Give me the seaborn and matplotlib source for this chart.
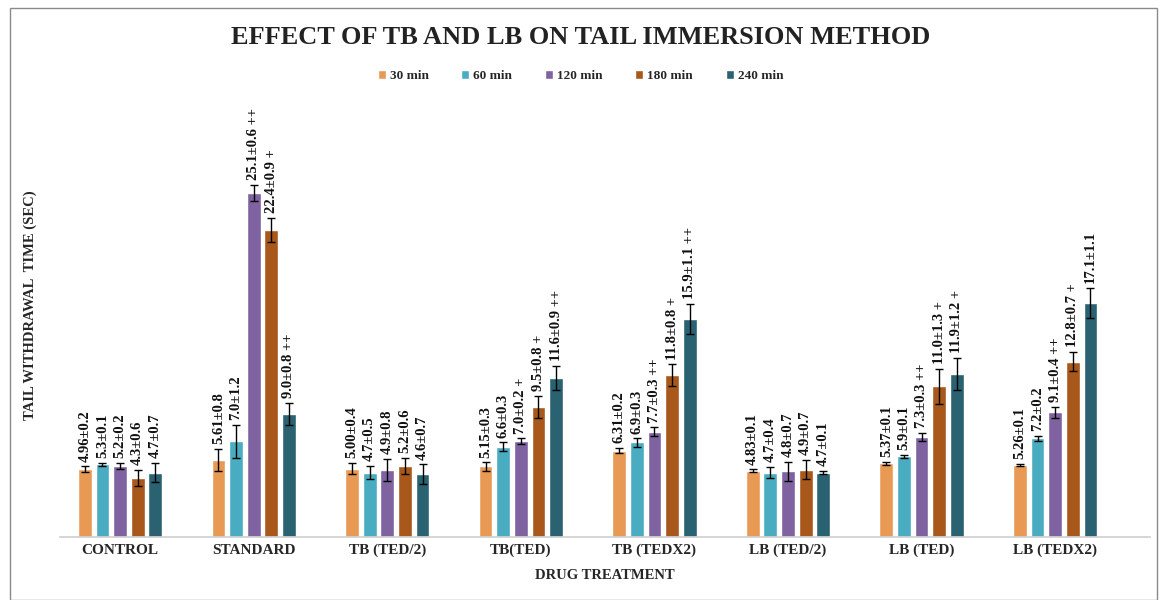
import matplotlib
matplotlib.use("Agg")
import matplotlib.pyplot as plt
import seaborn as sns
import pandas as pd
from matplotlib.patches import Rectangle

groups = ["CONTROL", "STANDARD", "TB (TED/2)", "TB(TED)", "TB (TEDX2)",
          "LB (TED/2)", "LB (TED)", "LB (TEDX2)"]
times = ["30 min", "60 min", "120 min", "180 min", "240 min"]

m30 = [4.96, 5.61, 5.00, 5.15, 6.31, 4.83, 5.37, 5.26]
m60 = [5.3, 7.0, 4.7, 6.6, 6.9, 4.7, 5.9, 7.2]
m120 = [5.2, 25.1, 4.9, 7.0, 7.7, 4.8, 7.3, 9.1]
m180 = [4.3, 22.4, 5.2, 9.5, 11.8, 4.9, 11.0, 12.8]
m240 = [4.7, 9.0, 4.6, 11.6, 15.9, 4.7, 11.9, 17.1]

e30 = [0.2, 0.8, 0.4, 0.3, 0.2, 0.1, 0.1, 0.1]
e60 = [0.1, 1.2, 0.5, 0.3, 0.3, 0.4, 0.1, 0.2]
e120 = [0.2, 0.6, 0.8, 0.2, 0.3, 0.7, 0.3, 0.4]
e180 = [0.6, 0.9, 0.6, 0.8, 0.8, 0.7, 1.3, 0.7]
e240 = [0.7, 0.8, 0.7, 0.9, 1.1, 0.1, 1.2, 1.1]

s30 = ["", "", "", "", "", "", "", ""]
s60 = ["", "", "", "", "", "", "", ""]
s120 = ["", "++", "", "+", "++", "", "++", "++"]
s180 = ["", "+", "", "+", "+", "", "+", "+"]
s240 = ["", "++", "", "++", "++", "", "+", ""]

means = [m30, m60, m120, m180, m240]
errs = [e30, e60, e120, e180, e240]
sigs = [s30, s60, s120, s180, s240]
decimals = [2, 1, 1, 1, 1]
colors = ["#E89A55", "#4AACC0", "#7E63A0", "#A9581C", "#2A6272"]

rows = []
for t, ms in zip(times, means):
    for g, v in zip(groups, ms):
        rows.append({"group": g, "time": t, "value": v})
df = pd.DataFrame(rows)

sns.set_theme(style="white")
plt.rcParams['font.family'] = ['Liberation Serif', 'DejaVu Serif']

W, H = 1161, 600
fig = plt.figure(figsize=(W / 100, H / 100), dpi=100)
ax = fig.add_axes([60 / W, 63 / H, 1090 / W, 437 / H])

sns.barplot(data=df, x="group", y="value", hue="time", order=groups,
            hue_order=times, palette=colors, saturation=1, width=0.66,
            gap=0.22, errorbar=None, ax=ax)

bar_containers = list(ax.containers)
for ci, cont in enumerate(bar_containers):
    for bar, m, e, s in zip(cont, means[ci], errs[ci], sigs[ci]):
        x = bar.get_x() + bar.get_width() / 2
        ax.errorbar(x, m, yerr=e, fmt='none', ecolor='black', elinewidth=1,
                    capsize=3, capthick=1)
        lab = f"{m:.{decimals[ci]}f}\u00b1{e:.1f}" + (" " + s if s else "")
        ax.text(x, m + e + 0.35, lab, rotation=90, ha='center', va='bottom',
                fontsize=10.5, fontweight='bold', color='#111111')

ax.set_ylim(0, 31.9)
ax.set_xlim(-0.45, 7.71)
ax.set_yticks([])
for sp in ["top", "right", "left"]:
    ax.spines[sp].set_visible(False)
ax.spines["bottom"].set_color("#d0d0d0")
ax.tick_params(axis='x', length=0, pad=5)
for lbl in ax.get_xticklabels():
    lbl.set_fontweight('bold')
    lbl.set_fontsize(11)
ax.set_xlabel("DRUG TREATMENT", fontsize=10.5, fontweight='bold', labelpad=8)
ax.set_ylabel("TAIL WITHDRAWAL  TIME (SEC)", fontsize=10.5, fontweight='bold')
ax.yaxis.set_label_coords(-0.021, 0.531)

handles, labels = ax.get_legend_handles_labels()
ax.get_legend().remove()
fig.legend(handles, labels, loc='center', bbox_to_anchor=(0.5, 1 - 76 / H),
           ncol=5, frameon=False, handlelength=0.6, handleheight=0.6,
           handletextpad=0.3, columnspacing=2.5,
           prop={'size': 9.5, 'weight': 'bold'})

fig.text(0.5, 1 - 37 / H, "EFFECT OF TB AND LB ON TAIL IMMERSION METHOD",
         ha='center', va='center', fontsize=19, fontweight='bold',
         color='#222222')

fig.add_artist(Rectangle((10 / W, 0), (1157 - 10) / W, (H - 8) / H,
                         transform=fig.transFigure, fill=False,
                         edgecolor='#8a8a8a', linewidth=1))

fig.savefig("out.png", dpi=100)
